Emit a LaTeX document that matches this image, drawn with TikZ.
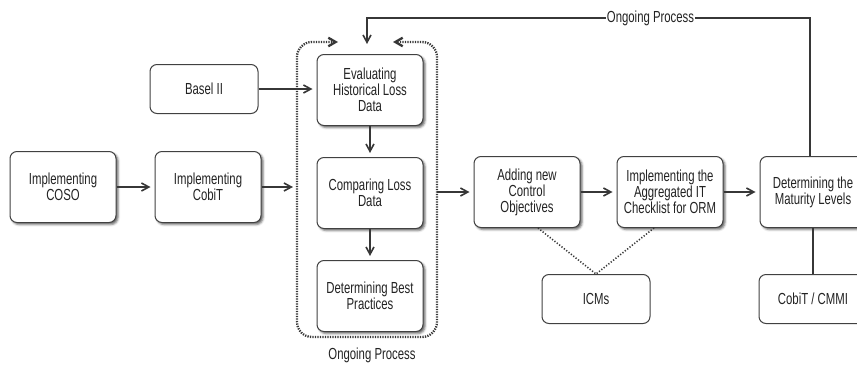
\documentclass[tikz,border=0pt]{standalone}
\usepackage{fontspec}
\setmainfont{Liberation Sans}[FakeStretch=0.71]
\usetikzlibrary{arrows.meta,positioning,shadows.blur,calc}
\definecolor{LineDark}{RGB}{55,55,55}
\definecolor{BoxEdge}{RGB}{65,65,65}
\definecolor{TextDark}{RGB}{35,35,35}
\tikzset{
  procbox/.style={draw=BoxEdge,line width=1pt,rounded corners=7pt,fill=white,
    minimum width=106pt,minimum height=71pt,align=center,inner sep=2pt,
    text=TextDark,font=\fontsize{16}{16}\selectfont,
    blur shadow={shadow xshift=2pt,shadow yshift=-2pt,shadow blur steps=3,
      shadow opacity=60}},
  inputbox/.style={draw=BoxEdge,line width=1pt,rounded corners=7pt,fill=white,
    minimum width=108pt,minimum height=49pt,align=center,inner sep=2pt,
    text=TextDark,font=\fontsize{16}{16}\selectfont},
  flowarrow/.style={-{Straight Barb[length=2.6mm,width=2.8mm]},
    line width=1.6pt,draw=LineDark,shorten >=4pt},
  loopline/.style={{Straight Barb[length=2.6mm,width=3mm]}-{Straight Barb[length=2.6mm,width=3mm]},
    line width=2.3pt,draw=LineDark,dash pattern=on 1.3pt off 1.2pt,rounded corners=15pt},
  linkdots/.style={line width=1.6pt,draw=LineDark,dash pattern=on 1.2pt off 1.8pt},
  plainline/.style={line width=1.6pt,draw=LineDark},
  looptext/.style={text=TextDark,font=\fontsize{16}{16}\selectfont},
}
\begin{document}
\begin{tikzpicture}[x=1pt,y=-1pt]
  \useasboundingbox (0,0) rectangle (857,367);
  % left chain
  \node[procbox] (coso) at (63,187) {Implementing\\COSO};
  \node[procbox,right=38pt of coso] (cobit) {Implementing\\CobiT};
  \node[inputbox] (basel) at (204,89) {Basel II};
  % loss data loop
  \node[procbox] (eval) at (370,90) {Evaluating\\Historical Loss\\Data};
  \node[procbox,below=31pt of eval] (compare) {Comparing Loss\\Data};
  \node[procbox,below=31pt of compare] (best) {Determining Best\\Practices};
  \draw[loopline] (338,42) -- (297,42) -- (297,337) -- (437,337) -- (437,42) -- (393,42);
  \node[looptext] (looplabel) at (372,355) {Ongoing Process};
  \coordinate (loopin) at (293,187);
  \coordinate (loopout) at (437,192);
  % right chain
  \node[procbox] (adding) at (527,192) {Adding new\\Control\\Objectives};
  \node[procbox,right=36pt of adding] (aggreg) {Implementing the\\Aggregated IT\\Checklist for ORM};
  \node[procbox,right=36pt of aggreg] (mature) {Determining the\\Maturity Levels};
  \node[inputbox] (icms) at (596,299) {ICMs};
  \node[inputbox] (cmmi) at (mature.south |- icms) {CobiT / CMMI};
  \coordinate (loopcorner) at (367,18);
  \coordinate (looptip) at (367,44);
  % connectors
  \draw[flowarrow] (coso) -- (cobit);
  \draw[flowarrow,shorten >=0pt] (cobit) -- (loopin);
  \draw[flowarrow] (basel.east) -- (basel.east -| eval.west);
  \draw[flowarrow] (eval) -- (compare);
  \draw[flowarrow] (compare) -- (best);
  \draw[flowarrow] (loopout) -- (adding);
  \draw[flowarrow] (adding) -- (aggreg);
  \draw[flowarrow] (aggreg) -- (mature);
  \draw[plainline] (mature) -- (cmmi);
  \draw[linkdots] ($(adding.south)+(11,0)$) -- (icms.north);
  \draw[linkdots] ($(aggreg.south)+(-16,0)$) -- (icms.north);
  \draw[flowarrow,shorten >=0pt] ($(mature.north)+(-3,0)$) |- node[pos=0.68,fill=white,inner sep=1pt,looptext]{Ongoing Process} (loopcorner) -- (looptip);
\end{tikzpicture}
\end{document}
